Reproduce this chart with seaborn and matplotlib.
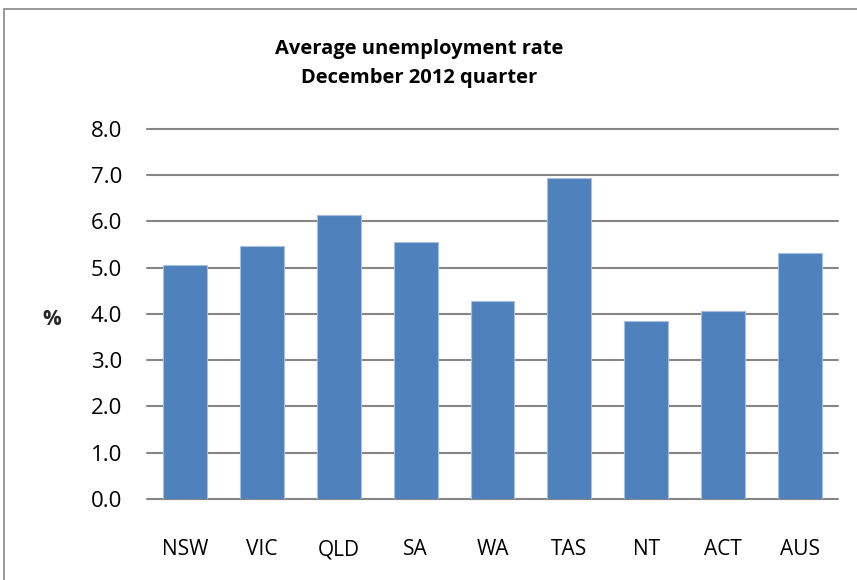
import numpy as np
import pandas as pd
import seaborn as sns
import matplotlib.pyplot as plt
from matplotlib.patches import Rectangle

# 各州平均失业率 (2012年12月季度)
states = ['NSW', 'VIC', 'QLD', 'SA', 'WA', 'TAS', 'NT', 'ACT', 'AUS']
rates = [5.05, 5.48, 6.15, 5.56, 4.29, 6.93, 3.85, 4.07, 5.31]
y_ticks = [0, 1, 2, 3, 4, 5, 6, 7, 8]

df = pd.DataFrame({'state': states, 'rate': rates})

sns.set_theme(style='white')
plt.rcParams['font.family'] = ['Open Sans', 'DejaVu Sans']
plt.rcParams['text.color'] = 'black'
plt.rcParams['xtick.color'] = 'black'
plt.rcParams['ytick.color'] = 'black'

fig = plt.figure(figsize=(8.57, 5.8), dpi=100)
ax = fig.add_axes([0.1715, 0.1397, 0.8065, 0.6379])

sns.barplot(data=df, x='state', y='rate', color='#4F81BD', saturation=1,
            width=0.57, ax=ax, zorder=3, edgecolor='#A7C0DE', linewidth=0.8)

ax.set_ylim(0, 8)
ax.set_yticks(y_ticks)
ax.set_yticklabels(['%.1f' % t for t in y_ticks], fontsize=16)
ax.set_xlim(-0.5, len(states) - 0.5)
ax.tick_params(axis='x', labelsize=15, pad=29, length=0)
ax.tick_params(axis='y', pad=18, length=0)
ax.grid(axis='y', color='#868686', linewidth=1.5, zorder=0)
for gl in ax.get_ygridlines():
    gl.set_clip_on(False)
for s in ax.spines.values():
    s.set_visible(False)
ax.set_xlabel('')
ax.set_ylabel('%', fontsize=15, fontweight='bold', rotation=0, va='center')
ax.yaxis.set_label_coords(-0.138, 0.486)

fig.text(0.489, 0.8905, 'Average unemployment rate\nDecember 2012 quarter',
         ha='center', va='center', fontsize=14.5, fontweight='bold',
         linespacing=1.6)

# 外框
fig.patches.append(Rectangle((4 / 857, -0.1), 1.0, 1 - 9 / 580 + 0.1,
                             transform=fig.transFigure, fill=False,
                             edgecolor='#888888', linewidth=1.2))

fig.savefig('out.png', dpi=100)
